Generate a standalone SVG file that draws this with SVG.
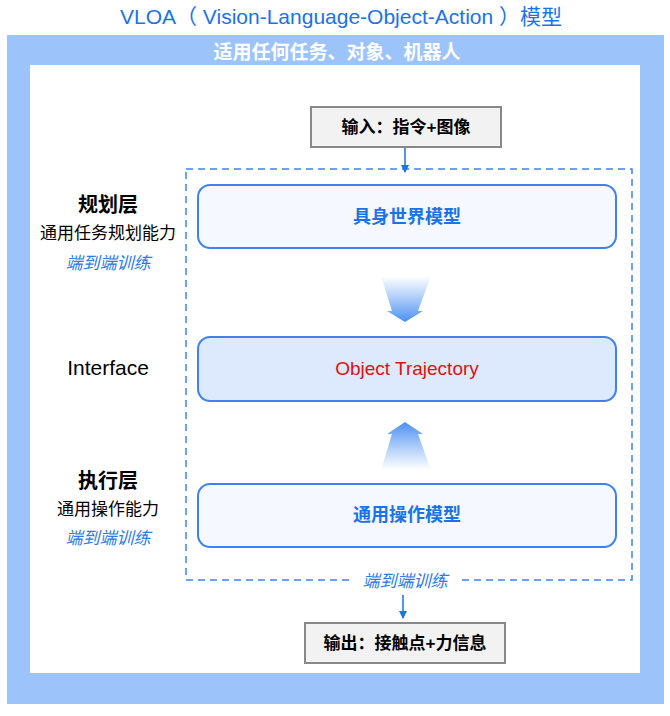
<svg xmlns="http://www.w3.org/2000/svg" width="670" height="716" viewBox="0 0 670 716">
<defs>
<style>
text{font-family:"Liberation Sans","Noto Sans CJK SC",sans-serif;text-anchor:middle}
.box{fill:#eef4ff;stroke:#3c82f0;stroke-width:2}
.io{fill:#f2f2f2;stroke:#888;stroke-width:2}
.bl{fill:#1a73e8;font-weight:bold;font-size:18px}
.it{fill:#2a7ae8;font-style:italic;font-size:17px}
.lab{fill:#000;font-size:17px}
</style>
<linearGradient id="gd" x1="0" y1="0" x2="0" y2="1"><stop offset="0" stop-color="#5b9cf5" stop-opacity="0"/><stop offset="1" stop-color="#4a8ff2"/></linearGradient>
<linearGradient id="gu" x1="0" y1="1" x2="0" y2="0"><stop offset="0" stop-color="#5b9cf5" stop-opacity="0"/><stop offset="1" stop-color="#4a8ff2"/></linearGradient>
<marker id="ah" markerWidth="8" markerHeight="8" refX="7" refY="4" orient="auto" markerUnits="userSpaceOnUse"><path d="M0,0L8,4L0,8z" fill="#1a73e8"/></marker>
</defs>
<rect width="670" height="716" fill="#fff"/>
<text x="341" y="24" font-size="21" fill="#1a73e8">VLOA（ Vision-Language-Object-Action ）模型</text>
<rect x="7" y="35" width="657" height="669" fill="#9dc3fb"/>
<rect x="30" y="65" width="610" height="608" fill="#fff"/>
<text x="337" y="59" font-size="19" fill="#fff" font-weight="bold">适用任何任务、对象、机器人</text>
<g id="left">
<text x="108" y="212" font-size="20" font-weight="bold">规划层</text>
<text x="108" y="239" class="lab">通用任务规划能力</text>
<text x="108" y="269" class="it">端到端训练</text>
<text x="108" y="375" font-size="21">Interface</text>
<text x="108" y="488" font-size="20" font-weight="bold">执行层</text>
<text x="108" y="515" class="lab">通用操作能力</text>
<text x="108" y="544" class="it">端到端训练</text>
</g>
<rect x="186" y="169" width="446" height="411" fill="none" stroke="#3c82f0" stroke-width="1.5" stroke-dasharray="7,5"/>
<rect x="350" y="570" width="110" height="22" fill="#fff"/>
<text x="405" y="587" class="it">端到端训练</text>
<g id="input"><rect x="311" y="107" width="190" height="40" class="io"/><text x="406" y="133" font-size="17" font-weight="bold">输入：指令+图像</text></g>
<g id="n1"><rect x="198" y="185" width="418" height="63" rx="12" class="box" style="fill:#f5f9ff"/><text x="407" y="223" class="bl">具身世界模型</text></g>
<g id="n2"><rect x="198" y="337" width="418" height="64" rx="12" class="box" style="fill:#dde9fd"/><text x="407" y="375" font-size="19" fill="#e01010">Object Trajectory</text></g>
<g id="n3"><rect x="198" y="484" width="418" height="63" rx="12" class="box" style="fill:#f5f9ff"/><text x="407" y="521" class="bl">通用操作模型</text></g>
<g id="output"><rect x="305" y="623" width="200" height="40" class="io"/><text x="405" y="649" font-size="17" font-weight="bold">输出：接触点+力信息</text></g>
<g id="connectors">
<line x1="405" y1="148" x2="405" y2="172" stroke="#1a73e8" stroke-width="1.5" marker-end="url(#ah)"/>
<line x1="403" y1="595" x2="403" y2="618" stroke="#1a73e8" stroke-width="1.5" marker-end="url(#ah)"/>
<path d="M381,276 L431,276 L418,311 L423,311 L405,322 L387,311 L392,311 Z" fill="url(#gd)"/>
<path d="M381,470 L431,470 L418,434 L423,434 L405,422 L387,434 L392,434 Z" fill="url(#gu)"/>
</g>
</svg>
